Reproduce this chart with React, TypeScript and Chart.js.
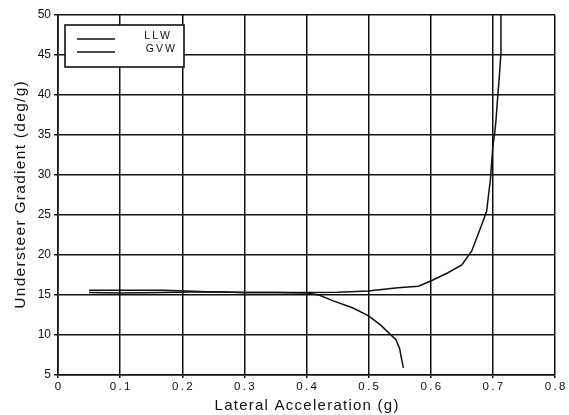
import React, { useEffect, useRef } from "react";
import { Chart, registerables } from "chart.js";

Chart.register(...registerables);

const seriesNames = ["LLW", "GVW"];

const llwX = [0.05, 0.1, 0.17, 0.24, 0.3, 0.35, 0.4, 0.42, 0.442, 0.474, 0.5, 0.52, 0.532, 0.544, 0.55, 0.552, 0.556];
const llwY = [15.6, 15.6, 15.6, 15.4, 15.3, 15.3, 15.25, 15.0, 14.3, 13.4, 12.4, 11.2, 10.3, 9.4, 8.3, 7.4, 5.9];

const gvwX = [0.05, 0.1, 0.17, 0.24, 0.3, 0.4, 0.45, 0.5, 0.51, 0.547, 0.58, 0.6, 0.627, 0.65, 0.666, 0.677, 0.685, 0.69, 0.693, 0.696, 0.698, 0.7, 0.703, 0.705, 0.707, 0.71, 0.713, 0.713];
const gvwY = [15.3, 15.25, 15.3, 15.4, 15.3, 15.3, 15.35, 15.5, 15.6, 15.9, 16.1, 16.75, 17.75, 18.75, 20.5, 22.75, 24.4, 25.5, 27.5, 29.4, 31.5, 33.6, 35.3, 36.8, 39, 41.9, 45.25, 50];

const xTicks = [0, 0.1, 0.2, 0.3, 0.4, 0.5, 0.6, 0.7, 0.8];
const yTicks = [5, 10, 15, 20, 25, 30, 35, 40, 45, 50];

const FONT = "'Liberation Sans', Arial, sans-serif";
const HAIR = String.fromCharCode(8202);
const THIN = String.fromCharCode(8201);
const spaced = (s: string, sp: string) => s.split("").join(sp);

const legendBox = {
  id: "legendBox",
  afterDraw(chart: any) {
    const ctx = chart.ctx;
    const left = 65, top = 25, w = 119, h = 42;
    ctx.save();
    ctx.fillStyle = "#fff";
    ctx.fillRect(left, top, w, h);
    ctx.strokeStyle = "#111";
    ctx.lineWidth = 1.6;
    ctx.strokeRect(left, top, w, h);
    ctx.font = `10.5px ${FONT}`;
    ctx.fillStyle = "#111";
    ctx.textBaseline = "middle";
    chart.data.datasets.forEach((ds: any, i: number) => {
      const y = top + 14 + i * 13;
      ctx.beginPath();
      ctx.lineWidth = 1.4;
      ctx.moveTo(left + 12, y);
      ctx.lineTo(left + 50, y);
      ctx.stroke();
      ctx.textAlign = "right";
      ctx.fillText(spaced(String(ds.label), THIN), left + 110 - (i === 0 ? 5 : 0), y - 3);
    });
    ctx.restore();
  },
};

export default function App() {
  const ref = useRef<HTMLCanvasElement>(null);
  useEffect(() => {
    if (!ref.current) return;
    const mk = (xs: number[], ys: number[]) => xs.map((x, i) => ({ x, y: ys[i] }));
    const chart = new Chart(ref.current, {
      type: "scatter",
      data: {
        datasets: [
          { label: seriesNames[0], data: mk(llwX, llwY), showLine: true, borderColor: "#111", borderWidth: 1.5, pointRadius: 0, tension: 0 },
          { label: seriesNames[1], data: mk(gvwX, gvwY), showLine: true, borderColor: "#111", borderWidth: 1.5, pointRadius: 0, tension: 0 },
        ],
      },
      options: {
        animation: false,
        responsive: false,
        maintainAspectRatio: false,
        layout: { padding: { top: 15, right: 14, left: 0, bottom: 0 } },
        plugins: { legend: { display: false }, tooltip: { enabled: false } },
        scales: {
          x: {
            type: "linear",
            min: 0,
            max: 0.8,
            afterBuildTicks: (s: any) => { s.ticks = xTicks.map((v) => ({ value: v })); },
            afterFit: (s: any) => { s.height = 40; },
            ticks: {
              color: "#111",
              font: { family: FONT, size: 11.5 },
              padding: 2,
              callback: (v: any) => (v === 0 ? "0" : spaced(Number(v).toFixed(1), THIN)),
            },
            grid: { color: "#111", lineWidth: 1.5, tickLength: 3 },
            border: { color: "#111", width: 1.6 },
            title: { display: true, text: spaced("Lateral Acceleration (g)", HAIR), color: "#111", font: { family: FONT, size: 15 }, padding: { top: 3, bottom: 0 } },
          },
          y: {
            type: "linear",
            min: 5,
            max: 50,
            afterBuildTicks: (s: any) => { s.ticks = yTicks.map((v) => ({ value: v })); },
            afterFit: (s: any) => { s.width = 58; },
            ticks: { color: "#111", font: { family: FONT, size: 12 }, padding: 3 },
            grid: { color: "#111", lineWidth: 1.5, tickLength: 4 },
            border: { color: "#111", width: 1.6 },
            title: { display: true, text: spaced("Understeer Gradient (deg/g)", HAIR), color: "#111", font: { family: FONT, size: 15.5 }, padding: { top: 11, bottom: 0 } },
          },
        },
      },
      plugins: [legendBox],
    });
    return () => chart.destroy();
  }, []);
  return (
    <div style={{ position: "fixed", left: 0, top: 0, width: 569, height: 415, background: "#fff" }}>
      <canvas ref={ref} width={569} height={415} style={{ width: 569, height: 415 }} />
    </div>
  );
}
